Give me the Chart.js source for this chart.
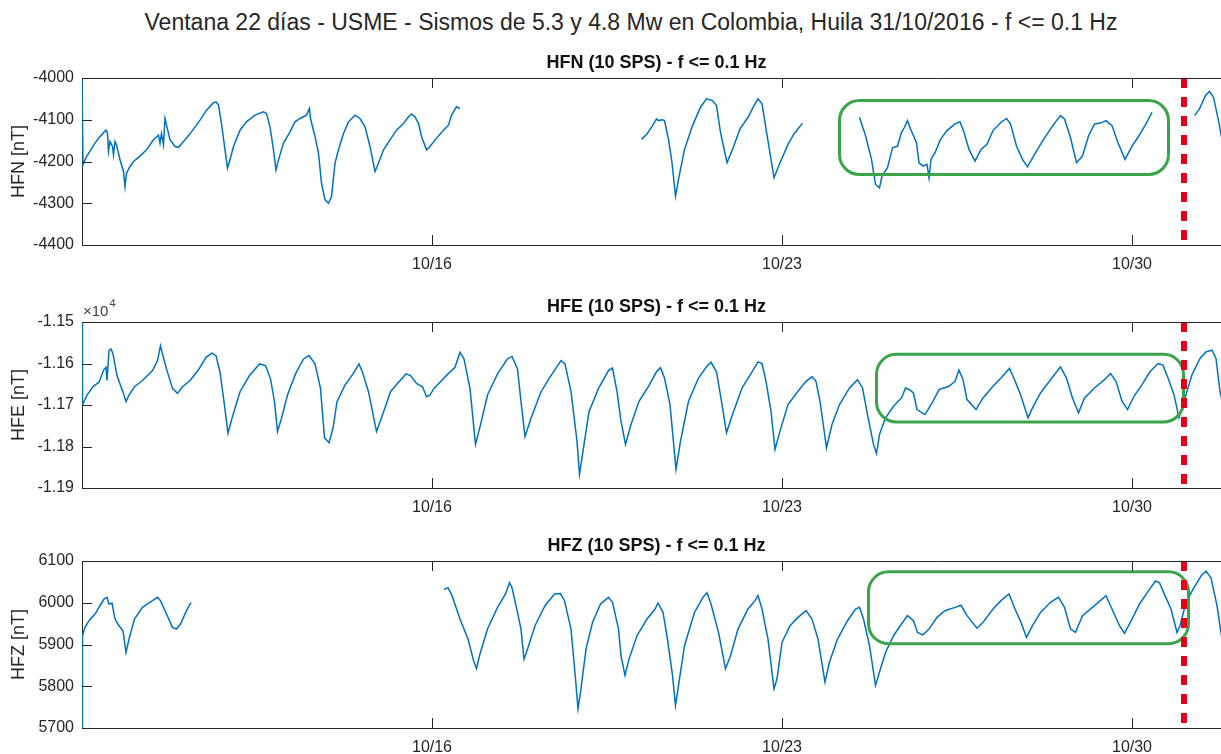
<!DOCTYPE html>
<html>
<head>
<meta charset="utf-8">
<script src="https://cdn.jsdelivr.net/npm/chart.js@4.4.1/dist/chart.umd.min.js"></script>
<style>
  body { margin: 0; background: #fff; width: 1221px; height: 754px; overflow: hidden; position: relative;
         font-family: "Liberation Sans", Arial, sans-serif; }
  #title { position: absolute; left: 0; width: 1262px; top: 8px; text-align: center;
           font-size: 23px; line-height: 28px; color: #262626; white-space: nowrap; }
  canvas { position: absolute; left: 0; }
</style>
</head>
<body>
<div id="title">Ventana 22 días - USME - Sismos de 5.3 y 4.8 Mw en Colombia, Huila 31/10/2016 - f &lt;= 0.1 Hz</div>
<canvas id="hfn" width="1221" height="240" style="top:40px"></canvas>
<canvas id="hfe" width="1221" height="239" style="top:284px"></canvas>
<canvas id="hfz" width="1221" height="231" style="top:523px"></canvas>
<script>
// x axis: days since 10/09 00:00
const tickDays = [7, 14, 21];
const tickLabels = ['10/16', '10/23', '10/30'];
const dayMax = 22.78;
const eventDay = 22.04; // sismo 31/10

// HFN [nT]  (null = gap in the record)
const hfnDays = [
  0.00, 0.02, 0.09, 0.26, 0.36, 0.48, 0.51, 0.53, 0.56, 0.61, 0.63, 0.66, 0.69, 0.76, 0.83, 0.86, 0.89, 0.96, 1.03, 1.16,
  1.29, 1.43, 1.53, 1.56, 1.59, 1.63, 1.66, 1.69, 1.76, 1.86, 1.93, 2.03, 2.19, 2.36, 2.49, 2.63, 2.68, 2.73, 2.79, 2.86,
  2.91, 2.96, 3.03, 3.16, 3.29, 3.46, 3.63, 3.69, 3.76, 3.83, 3.88, 3.93, 4.03, 4.16, 4.26, 4.36, 4.49, 4.55, 4.57, 4.66,
  4.73, 4.79, 4.86, 4.93, 4.99, 5.06, 5.13, 5.23, 5.33, 5.46, 5.56, 5.66, 5.76, 5.86, 5.93, 6.03, 6.16, 6.29, 6.43, 6.53,
  6.59, 6.66, 6.73, 6.79, 6.89, 6.96, 7.09, 7.23, 7.33, 7.39, 7.49, 7.56,
  9.0,
  11.19, 11.30, 11.41, 11.49, 11.53, 11.61, 11.65, 11.73, 11.80, 11.87, 11.93, 12.05, 12.21, 12.37, 12.49, 12.61, 12.69, 12.77, 12.90, 13.01,
  13.16, 13.32, 13.44, 13.52, 13.60, 13.68, 13.84, 13.96, 14.12, 14.24, 14.41,
  15.0,
  15.55, 15.67, 15.79, 15.87, 15.95, 16.00, 16.11, 16.21, 16.31, 16.39, 16.45, 16.51, 16.57, 16.63, 16.69, 16.74, 16.82, 16.90, 16.94, 16.98,
  17.06, 17.17, 17.30, 17.46, 17.56, 17.64, 17.74, 17.86, 17.98, 18.10, 18.22, 18.38, 18.49, 18.57, 18.69, 18.81, 18.91, 19.05, 19.21, 19.37,
  19.49, 19.57, 19.65, 19.77, 19.89, 20.01, 20.13, 20.25, 20.37, 20.48, 20.60, 20.72, 20.86, 21.00, 21.12, 21.28, 21.40,
  21.8,
  22.25, 22.35, 22.47, 22.55, 22.63, 22.75, 22.81
];
const hfnValues = [
  -4005, -4208, -4188, -4156, -4140, -4125, -4133, -4176, -4152, -4164, -4184, -4152, -4160, -4196, -4224, -4260, -4228, -4212, -4200, -4187,
  -4172, -4148, -4137, -4156, -4133, -4160, -4097, -4113, -4148, -4164, -4166, -4152, -4129, -4101, -4077, -4059, -4057, -4065, -4109, -4172,
  -4216, -4196, -4164, -4125, -4105, -4089, -4081, -4085, -4117, -4172, -4220, -4196, -4156, -4129, -4105, -4097, -4089, -4073, -4097, -4140,
  -4180, -4252, -4292, -4300, -4284, -4204, -4172, -4133, -4105, -4089, -4097, -4117, -4164, -4224, -4204, -4172, -4148, -4125, -4109, -4093,
  -4086, -4093, -4109, -4140, -4172, -4164, -4144, -4125, -4113, -4089, -4069, -4073,
  null,
  -4147, -4134, -4114, -4098, -4102, -4100, -4102, -4147, -4203, -4283, -4243, -4171, -4114, -4070, -4050, -4054, -4066, -4130, -4203, -4171,
  -4122, -4094, -4066, -4050, -4062, -4122, -4239, -4203, -4159, -4134, -4108,
  null,
  -4094, -4138, -4195, -4255, -4263, -4235, -4215, -4167, -4163, -4130, -4118, -4102, -4122, -4138, -4155, -4203, -4211, -4207, -4239, -4195,
  -4179, -4147, -4126, -4110, -4105, -4130, -4171, -4199, -4171, -4159, -4126, -4106, -4097, -4110, -4163, -4195, -4213, -4183, -4151, -4122,
  -4102, -4090, -4098, -4143, -4203, -4187, -4139, -4110, -4108, -4102, -4114, -4155, -4195, -4163, -4142, -4110, -4082,
  null,
  -4090, -4074, -4042, -4032, -4046, -4114, -4155
];

// HFE [nT]
const hfeDays = [
  0.00, 0.01, 0.10, 0.22, 0.34, 0.44, 0.48, 0.50, 0.54, 0.58, 0.62, 0.70, 0.78, 0.83, 0.88, 0.94, 1.05, 1.21, 1.41, 1.51,
  1.57, 1.61, 1.69, 1.81, 1.91, 2.01, 2.16, 2.32, 2.48, 2.60, 2.68, 2.76, 2.84, 2.92, 3.00, 3.16, 3.35, 3.55, 3.67, 3.77,
  3.85, 3.91, 3.99, 4.11, 4.27, 4.43, 4.54, 4.66, 4.77, 4.85, 4.94, 5.02, 5.10, 5.26, 5.42, 5.54, 5.61, 5.73, 5.89, 6.01,
  6.17, 6.33, 6.48, 6.57, 6.69, 6.81, 6.89, 6.96, 7.04, 7.16, 7.32, 7.46, 7.56, 7.64, 7.76, 7.87, 7.97, 8.11, 8.31, 8.51,
  8.60, 8.71, 8.78, 8.86, 8.98, 9.18, 9.38, 9.58, 9.66, 9.78, 9.90, 9.95, 10.02, 10.14, 10.33, 10.53, 10.61, 10.70, 10.78, 10.87,
  10.98, 11.14, 11.33, 11.49, 11.57, 11.65, 11.76, 11.88, 11.97, 12.13, 12.33, 12.49, 12.58, 12.69, 12.79, 12.89, 13.01, 13.20, 13.40, 13.52,
  13.60, 13.68, 13.78, 13.86, 13.96, 14.12, 14.32, 14.48, 14.60, 14.68, 14.76, 14.89, 15.00, 15.15, 15.35, 15.51, 15.61, 15.71, 15.83, 15.89,
  15.95, 16.07, 16.23, 16.39, 16.47, 16.55, 16.63, 16.70, 16.86, 17.02, 17.14, 17.34, 17.46, 17.54, 17.62, 17.70, 17.88, 18.02, 18.22, 18.38,
  18.55, 18.65, 18.77, 18.92, 19.01, 19.17, 19.37, 19.57, 19.69, 19.81, 19.93, 20.05, 20.25, 20.45, 20.57, 20.68, 20.80, 20.91, 21.04, 21.20,
  21.36, 21.52, 21.62, 21.72, 21.84, 21.94, 22.04, 22.20, 22.36, 22.48, 22.60, 22.68, 22.76, 22.82
];
const hfeValues = [
  -11502, -11700, -11676, -11656, -11645, -11614, -11609, -11641, -11569, -11565, -11577, -11629, -11656, -11672, -11692, -11676, -11656, -11641, -11617, -11593,
  -11557, -11577, -11613, -11660, -11672, -11656, -11641, -11617, -11585, -11575, -11581, -11621, -11692, -11768, -11732, -11668, -11629, -11601, -11605, -11637,
  -11692, -11764, -11732, -11676, -11625, -11589, -11581, -11601, -11660, -11779, -11791, -11756, -11692, -11652, -11625, -11601, -11621, -11668, -11764, -11724,
  -11668, -11645, -11625, -11629, -11648, -11656, -11680, -11676, -11660, -11645, -11625, -11609, -11573, -11589, -11660, -11795, -11748, -11676, -11625, -11589,
  -11583, -11613, -11692, -11776, -11732, -11668, -11629, -11593, -11601, -11668, -11787, -11867, -11811, -11716, -11660, -11617, -11611, -11667, -11739, -11795,
  -11747, -11691, -11655, -11620, -11610, -11635, -11699, -11855, -11787, -11691, -11635, -11608, -11597, -11620, -11691, -11767, -11723, -11659, -11620, -11596,
  -11600, -11643, -11715, -11807, -11763, -11699, -11667, -11643, -11632, -11643, -11691, -11803, -11747, -11699, -11659, -11639, -11659, -11723, -11795, -11817,
  -11771, -11731, -11703, -11683, -11659, -11663, -11671, -11711, -11723, -11691, -11663, -11655, -11643, -11616, -11639, -11687, -11711, -11683, -11655, -11635,
  -11612, -11639, -11675, -11731, -11707, -11671, -11639, -11608, -11635, -11683, -11719, -11683, -11659, -11639, -11624, -11643, -11691, -11711, -11679, -11651,
  -11620, -11600, -11604, -11635, -11675, -11731, -11691, -11627, -11588, -11572, -11568, -11588, -11667, -11699
];

// HFZ [nT]
const hfzDays = [
  0.00, 0.01, 0.06, 0.14, 0.26, 0.38, 0.44, 0.50, 0.54, 0.60, 0.66, 0.74, 0.82, 0.88, 0.94, 1.05, 1.21, 1.41, 1.51, 1.57,
  1.69, 1.81, 1.89, 1.97, 2.09, 2.18,
  4.5,
  7.24, 7.32, 7.40, 7.56, 7.72, 7.83, 7.89, 7.95, 8.11, 8.31, 8.47, 8.55, 8.60, 8.71, 8.78, 8.84, 8.90, 9.06, 9.26, 9.45,
  9.57, 9.65, 9.78, 9.87, 9.92, 9.98, 10.08, 10.21, 10.37, 10.53, 10.61, 10.73, 10.78, 10.86, 10.94, 11.10, 11.30, 11.46, 11.52, 11.62,
  11.71, 11.81, 11.87, 11.93, 12.05, 12.25, 12.42, 12.50, 12.58, 12.73, 12.87, 12.97, 13.12, 13.32, 13.46, 13.52, 13.60, 13.72, 13.84, 13.90,
  14.00, 14.16, 14.32, 14.48, 14.60, 14.72, 14.86, 14.95, 15.11, 15.31, 15.47, 15.55, 15.63, 15.75, 15.87, 15.95, 16.07, 16.23, 16.39, 16.51,
  16.63, 16.71, 16.82, 16.94, 17.10, 17.26, 17.46, 17.58, 17.70, 17.90, 18.02, 18.22, 18.38, 18.54, 18.66, 18.78, 18.89, 19.01, 19.17, 19.37,
  19.53, 19.65, 19.77, 19.87, 20.01, 20.25, 20.48, 20.60, 20.75, 20.85, 21.00, 21.15, 21.35, 21.47, 21.55, 21.66, 21.78, 21.90, 21.96, 22.08,
  22.22, 22.38, 22.48, 22.58, 22.70, 22.80
];
const hfzValues = [
  5700, 5921, 5941, 5957, 5973, 5997, 6009, 6013, 5997, 5999, 5961, 5945, 5933, 5881, 5913, 5961, 5989, 6005, 6013, 6005,
  5973, 5941, 5937, 5949, 5981, 6001,
  null,
  6032, 6036, 6017, 5961, 5913, 5862, 5842, 5873, 5937, 5989, 6021, 6048, 6036, 5977, 5937, 5865, 5885, 5945, 5993, 6021,
  6022, 6005, 5937, 5818, 5746, 5794, 5889, 5953, 5997, 6013, 6001, 5937, 5873, 5826, 5865, 5921, 5961, 5985, 5999, 5977,
  5913, 5826, 5754, 5802, 5897, 5977, 6013, 6024, 5997, 5929, 5842, 5873, 5937, 5985, 6005, 6017, 5985, 5913, 5794, 5818,
  5905, 5945, 5965, 5981, 5961, 5913, 5810, 5858, 5913, 5957, 5985, 5989, 5961, 5897, 5802, 5834, 5881, 5921, 5949, 5969,
  5957, 5929, 5923, 5937, 5965, 5981, 5989, 5994, 5969, 5939, 5953, 5985, 6005, 6021, 5985, 5953, 5917, 5945, 5977, 6001,
  6013, 5989, 5937, 5929, 5969, 5993, 6017, 5985, 5945, 5927, 5961, 5997, 6032, 6052, 6048, 6017, 5985, 5929, 5945, 6001,
  6032, 6064, 6076, 6060, 5993, 5913
];

// highlighted intervals (days, nT)
const hfnBox = { x0: 15.15, x1: 21.73, y0: -4054, y1: -4231 };
const hfeBox = { x0: 15.89, x1: 22.03, y0: -11578, y1: -11741 };
const hfzBox = { x0: 15.73, x1: 22.13, y0: 6074, y1: 5902 };

const FONT = '"Liberation Sans", Arial, Helvetica, sans-serif';
const AXIS = '#262626';

function roundRect(ctx, x, y, w, h, r) {
  ctx.beginPath();
  ctx.moveTo(x + r, y);
  ctx.arcTo(x + w, y, x + w, y + h, r);
  ctx.arcTo(x + w, y + h, x, y + h, r);
  ctx.arcTo(x, y + h, x, y, r);
  ctx.arcTo(x, y, x + w, y, r);
  ctx.closePath();
}

const matlabAxes = {
  id: 'matlabAxes',
  afterDatasetsDraw(chart, args, opts) {
    const { ctx, chartArea: a, scales: { x, y } } = chart;
    ctx.save();

    // green rounded box
    const b = opts.box;
    const bx0 = x.getPixelForValue(b.x0), bx1 = x.getPixelForValue(b.x1);
    const by0 = y.getPixelForValue(b.y0), by1 = y.getPixelForValue(b.y1);
    ctx.strokeStyle = '#3AA548';
    ctx.lineWidth = 3;
    roundRect(ctx, bx0, by0, bx1 - bx0, by1 - by0, 20);
    ctx.stroke();

    // red dashed event line
    const ex = x.getPixelForValue(eventDay);
    ctx.strokeStyle = '#E2001A';
    ctx.lineWidth = 6;
    ctx.setLineDash([10, 9]);
    ctx.beginPath();
    ctx.moveTo(ex, a.top);
    ctx.lineTo(ex, a.bottom);
    ctx.stroke();
    ctx.setLineDash([]);

    // box top line + inward ticks
    ctx.strokeStyle = AXIS;
    ctx.lineWidth = 1;
    ctx.beginPath();
    ctx.moveTo(a.left, a.top + 0.5);
    ctx.lineTo(a.right, a.top + 0.5);
    tickDays.forEach(d => {
      const px = Math.round(x.getPixelForValue(d)) + 0.5;
      ctx.moveTo(px, a.bottom); ctx.lineTo(px, a.bottom - 10);
      ctx.moveTo(px, a.top); ctx.lineTo(px, a.top + 10);
    });
    y.ticks.forEach(t => {
      const py = Math.round(y.getPixelForValue(t.value)) + 0.5;
      ctx.moveTo(a.left, py); ctx.lineTo(a.left + 10, py);
    });
    ctx.stroke();
    ctx.restore();
  },
  afterDraw(chart, args, opts) {
    const { ctx, chartArea: a } = chart;
    ctx.save();
    ctx.fillStyle = '#111';
    ctx.font = 'bold 18px ' + FONT;
    ctx.textAlign = 'center';
    ctx.textBaseline = 'middle';
    ctx.fillText(opts.title, (a.left + a.right) / 2 + 5, a.top - 15);
    if (opts.exponent) {
      ctx.fillStyle = '#404040';
      ctx.textAlign = 'left';
      ctx.font = '15px ' + FONT;
      ctx.fillText('\u00d710', a.left + 1, a.top - 10);
      const w = ctx.measureText('\u00d710').width;
      ctx.font = '11px ' + FONT;
      ctx.fillText(opts.exponent, a.left + 1 + w + 1, a.top - 18);
    }
    ctx.restore();
  }
};

function makePanel(id, days, values, opts) {
  const points = days.map((d, i) => ({ x: d, y: values[i] }));
  return new Chart(document.getElementById(id), {
    type: 'line',
    data: {
      datasets: [{
        data: points,
        borderColor: '#0072BD',
        borderWidth: 1.5,
        pointRadius: 0,
        tension: 0,
        spanGaps: false,
      }],
    },
    options: {
      responsive: false,
      animation: false,
      devicePixelRatio: 1,
      layout: { padding: { top: 38, right: 0, bottom: opts.bottomPad, left: 0 } },
      plugins: {
        legend: { display: false },
        tooltip: { enabled: false },
        matlabAxes: { title: opts.title, box: opts.box, exponent: opts.exponent },
      },
      scales: {
        x: {
          type: 'linear',
          min: 0,
          max: dayMax,
          grid: { display: false, drawTicks: false },
          border: { display: true, color: AXIS, width: 1 },
          afterBuildTicks: s => { s.ticks = tickDays.map(v => ({ value: v })); },
          afterFit: s => { s.height = opts.xHeight; },
          ticks: {
            padding: 10,
            color: AXIS,
            font: { family: FONT, size: 16 },
            maxRotation: 0,
            autoSkip: false,
            callback: v => tickLabels[tickDays.indexOf(v)],
          },
        },
        y: {
          min: opts.yMin,
          max: opts.yMax,
          grid: { display: false, drawTicks: false },
          border: { display: true, color: AXIS, width: 1 },
          afterFit: s => { s.width = 82; },
          ticks: {
            stepSize: 100,
            padding: 8,
            color: AXIS,
            font: { family: FONT, size: 16 },
            callback: opts.tickFmt,
          },
          title: {
            display: true,
            text: opts.yLabel,
            color: AXIS,
            font: { family: FONT, size: 18 },
            padding: { top: 8, bottom: 0 },
          },
        },
      },
    },
    plugins: [matlabAxes],
  });
}

makePanel('hfn', hfnDays, hfnValues, {
  title: 'HFN (10 SPS) - f <= 0.1 Hz', yLabel: 'HFN [nT]', yMin: -4400, yMax: -4000,
  box: hfnBox, xHeight: 30, bottomPad: 5, tickFmt: v => String(v),
});
makePanel('hfe', hfeDays, hfeValues, {
  title: 'HFE (10 SPS) - f <= 0.1 Hz', yLabel: 'HFE [nT]', yMin: -11900, yMax: -11500,
  box: hfeBox, xHeight: 30, bottomPad: 5, exponent: '4', tickFmt: v => (v / 10000).toFixed(2),
});
makePanel('hfz', hfzDays, hfzValues, {
  title: 'HFZ (10 SPS) - f <= 0.1 Hz', yLabel: 'HFZ [nT]', yMin: 5700, yMax: 6100,
  box: hfzBox, xHeight: 26, bottomPad: 0, tickFmt: v => String(v),
});
</script>
</body>
</html>
